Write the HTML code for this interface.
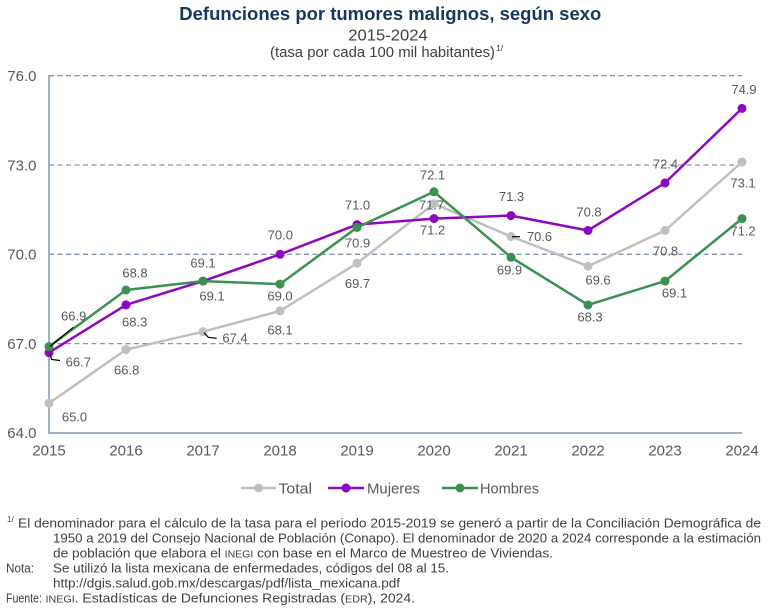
<!DOCTYPE html>
<html>
<head>
<meta charset="utf-8">
<style>
  html, body { margin: 0; padding: 0; background: #ffffff; }
  svg { display: block; }
  text { font-family: "Liberation Sans", Arial, sans-serif; }
</style>
</head>
<body>
<svg width="768" height="611" viewBox="0 0 768 611" xmlns="http://www.w3.org/2000/svg">
  <rect x="0" y="0" width="768" height="611" fill="#ffffff"/>

  <!-- Titles -->
  <text x="179.3" y="20" font-size="18" font-weight="bold" fill="#17375E" textLength="422" lengthAdjust="spacingAndGlyphs">Defunciones por tumores malignos, según sexo</text>
  <text x="348.3" y="40.5" font-size="16" fill="#404040" textLength="79.4" lengthAdjust="spacingAndGlyphs">2015-2024</text>
  <text x="270" y="57" font-size="14.5" fill="#404040" textLength="225" lengthAdjust="spacingAndGlyphs">(tasa por cada 100 mil habitantes)</text>
  <text x="496" y="51" font-size="8.5" fill="#404040">1/</text>

  <!-- Grid lines (dashed) -->
  <g stroke="#8497B0" stroke-width="1.3" stroke-dasharray="5,3.5" fill="none">
    <line x1="49" y1="75.7" x2="742" y2="75.7"/>
    <line x1="49" y1="165.0" x2="742" y2="165.0"/>
    <line x1="49" y1="254.3" x2="742" y2="254.3"/>
    <line x1="49" y1="343.6" x2="742" y2="343.6"/>
  </g>
  <!-- Axes -->
  <g stroke="#8497B0" stroke-width="1.5" fill="none">
    <line x1="49" y1="75" x2="49" y2="433"/>
    <line x1="48.3" y1="433" x2="742" y2="433"/>
  </g>

  <!-- Y tick labels -->
  <g font-size="15" fill="#595959" text-anchor="end">
    <text x="36.5" y="81">76.0</text>
    <text x="36.5" y="170.3">73.0</text>
    <text x="36.5" y="259.6">70.0</text>
    <text x="36.5" y="348.9">67.0</text>
    <text x="36.5" y="438.2">64.0</text>
  </g>
  <!-- X tick labels -->
  <g font-size="15" fill="#595959" text-anchor="middle">
    <text x="49" y="455.5">2015</text>
    <text x="126" y="455.5">2016</text>
    <text x="203" y="455.5">2017</text>
    <text x="280" y="455.5">2018</text>
    <text x="357" y="455.5">2019</text>
    <text x="434" y="455.5">2020</text>
    <text x="511" y="455.5">2021</text>
    <text x="588" y="455.5">2022</text>
    <text x="665" y="455.5">2023</text>
    <text x="742" y="455.5">2024</text>
  </g>

  <!-- Total series -->
  <polyline fill="none" stroke="#C0C0C0" stroke-width="2.5" stroke-linejoin="round"
    points="49,403.2 126,349.6 203,331.7 280,310.9 357,263.3 434,203.7 511,236.5 588,266.2 665,230.5 742,162.0"/>
  <g fill="#C0C0C0">
    <circle cx="49" cy="403.2" r="4.5"/><circle cx="126" cy="349.6" r="4.5"/>
    <circle cx="203" cy="331.7" r="4.5"/><circle cx="280" cy="310.9" r="4.5"/>
    <circle cx="357" cy="263.3" r="4.5"/><circle cx="434" cy="203.7" r="4.5"/>
    <circle cx="511" cy="236.5" r="4.5"/><circle cx="588" cy="266.2" r="4.5"/>
    <circle cx="665" cy="230.5" r="4.5"/><circle cx="742" cy="162.0" r="4.5"/>
  </g>

  <!-- Mujeres series -->
  <polyline fill="none" stroke="#8E08BF" stroke-width="2.5" stroke-linejoin="round"
    points="49,352.6 126,304.9 203,281.1 280,254.3 357,224.6 434,218.6 511,215.6 588,230.5 665,182.9 742,108.4"/>
  <g fill="#8E08BF">
    <circle cx="49" cy="352.6" r="4.5"/><circle cx="126" cy="304.9" r="4.5"/>
    <circle cx="203" cy="281.1" r="4.5"/><circle cx="280" cy="254.3" r="4.5"/>
    <circle cx="357" cy="224.6" r="4.5"/><circle cx="434" cy="218.6" r="4.5"/>
    <circle cx="511" cy="215.6" r="4.5"/><circle cx="588" cy="230.5" r="4.5"/>
    <circle cx="665" cy="182.9" r="4.5"/><circle cx="742" cy="108.4" r="4.5"/>
  </g>

  <!-- Hombres series -->
  <polyline fill="none" stroke="#3A9150" stroke-width="2.5" stroke-linejoin="round"
    points="49,346.6 126,290.0 203,281.1 280,284.1 357,227.5 434,191.8 511,257.3 588,304.9 665,281.1 742,218.6"/>
  <g fill="#3A9150">
    <circle cx="49" cy="346.6" r="4.5"/><circle cx="126" cy="290.0" r="4.5"/>
    <circle cx="203" cy="281.1" r="4.5"/><circle cx="280" cy="284.1" r="4.5"/>
    <circle cx="357" cy="227.5" r="4.5"/><circle cx="434" cy="191.8" r="4.5"/>
    <circle cx="511" cy="257.3" r="4.5"/><circle cx="588" cy="304.9" r="4.5"/>
    <circle cx="665" cy="281.1" r="4.5"/><circle cx="742" cy="218.6" r="4.5"/>
  </g>

  <!-- Leader lines -->
  <g stroke="#000000" stroke-width="1.2" fill="none">
    <polyline points="50,346.5 73.3,327.3"/>
    <polyline points="50,354 51.7,359.5 60,360.5"/>
    <polyline points="204,332.7 208.3,337.3 216.7,338.3"/>
    <polyline points="512,236.7 520,236.7"/>
  </g>

  <!-- Data labels -->
  <g font-size="13" fill="#595959" text-anchor="middle">
    <!-- Total -->
    <text x="74.5" y="421.4">65.0</text>
    <text x="126.7" y="374.7">66.8</text>
    <text x="235" y="342.7">67.4</text>
    <text x="280" y="334.7">68.1</text>
    <text x="357.5" y="288">69.7</text>
    <text x="431.5" y="209.7">71.7</text>
    <text x="539.5" y="241.2">70.6</text>
    <text x="598" y="284.7">69.6</text>
    <text x="665.5" y="255.7">70.8</text>
    <text x="743" y="187.4">73.1</text>
    <!-- Mujeres -->
    <text x="78.3" y="366.7">66.7</text>
    <text x="134.7" y="326.4">68.3</text>
    <text x="212" y="300.7">69.1</text>
    <text x="280.3" y="239.7">70.0</text>
    <text x="357.5" y="209.7">71.0</text>
    <text x="432.5" y="234.7">71.2</text>
    <text x="511.5" y="201">71.3</text>
    <text x="589" y="216.4">70.8</text>
    <text x="665.5" y="168.7">72.4</text>
    <text x="744" y="94">74.9</text>
    <!-- Hombres -->
    <text x="73.7" y="320.7">66.9</text>
    <text x="135" y="277.7">68.8</text>
    <text x="203" y="267.7">69.1</text>
    <text x="280" y="300.7">69.0</text>
    <text x="357.5" y="247.4">70.9</text>
    <text x="432.5" y="179.7">72.1</text>
    <text x="509.5" y="274.7">69.9</text>
    <text x="590" y="321.4">68.3</text>
    <text x="674.5" y="297.4">69.1</text>
    <text x="743" y="235.4">71.2</text>
  </g>

  <!-- Legend -->
  <g>
    <line x1="241" y1="488" x2="276" y2="488" stroke="#C0C0C0" stroke-width="2.5"/>
    <circle cx="258.5" cy="488" r="4.5" fill="#C0C0C0"/>
    <text x="278.5" y="493.3" font-size="15" fill="#595959" textLength="33.5" lengthAdjust="spacingAndGlyphs">Total</text>

    <line x1="328" y1="488" x2="364" y2="488" stroke="#8E08BF" stroke-width="2.5"/>
    <circle cx="346" cy="488" r="4.5" fill="#8E08BF"/>
    <text x="367" y="493.3" font-size="15" fill="#595959" textLength="53" lengthAdjust="spacingAndGlyphs">Mujeres</text>

    <line x1="442" y1="488" x2="478" y2="488" stroke="#3A9150" stroke-width="2.5"/>
    <circle cx="460" cy="488" r="4.5" fill="#3A9150"/>
    <text x="480" y="493.3" font-size="15" fill="#595959" textLength="59" lengthAdjust="spacingAndGlyphs">Hombres</text>
  </g>

  <!-- Footnotes -->
  <g font-size="13" fill="#404040">
    <text x="7" y="522" font-size="8">1/</text>
    <text x="18" y="527.5" textLength="743" lengthAdjust="spacingAndGlyphs">El denominador para el cálculo de la tasa para el periodo 2015-2019 se generó a partir de la Conciliación Demográfica de</text>
    <text x="53" y="542.5" textLength="708" lengthAdjust="spacingAndGlyphs">1950 a 2019 del Consejo Nacional de Población (Conapo). El denominador de 2020 a 2024 corresponde a la estimación</text>
    <text x="53" y="557.5" textLength="500" lengthAdjust="spacingAndGlyphs">de población que elabora el <tspan font-size="10">INEGI</tspan> con base en el Marco de Muestreo de Viviendas.</text>
    <text x="6" y="572.5" textLength="28" lengthAdjust="spacingAndGlyphs">Nota:</text>
    <text x="53" y="572.5" textLength="396" lengthAdjust="spacingAndGlyphs">Se utilizó la lista mexicana de enfermedades, códigos del 08 al 15.</text>
    <text x="53" y="587.5" textLength="347" lengthAdjust="spacingAndGlyphs">http://dgis.salud.gob.mx/descargas/pdf/lista_mexicana.pdf</text>
    <text x="6" y="602.5" textLength="36" lengthAdjust="spacingAndGlyphs">Fuente:</text>
    <text x="45.5" y="602.5" textLength="369.5" lengthAdjust="spacingAndGlyphs"><tspan font-size="10">INEGI</tspan>. Estadísticas de Defunciones Registradas (<tspan font-size="10">EDR</tspan>), 2024.</text>
  </g>
</svg>
</body>
</html>
